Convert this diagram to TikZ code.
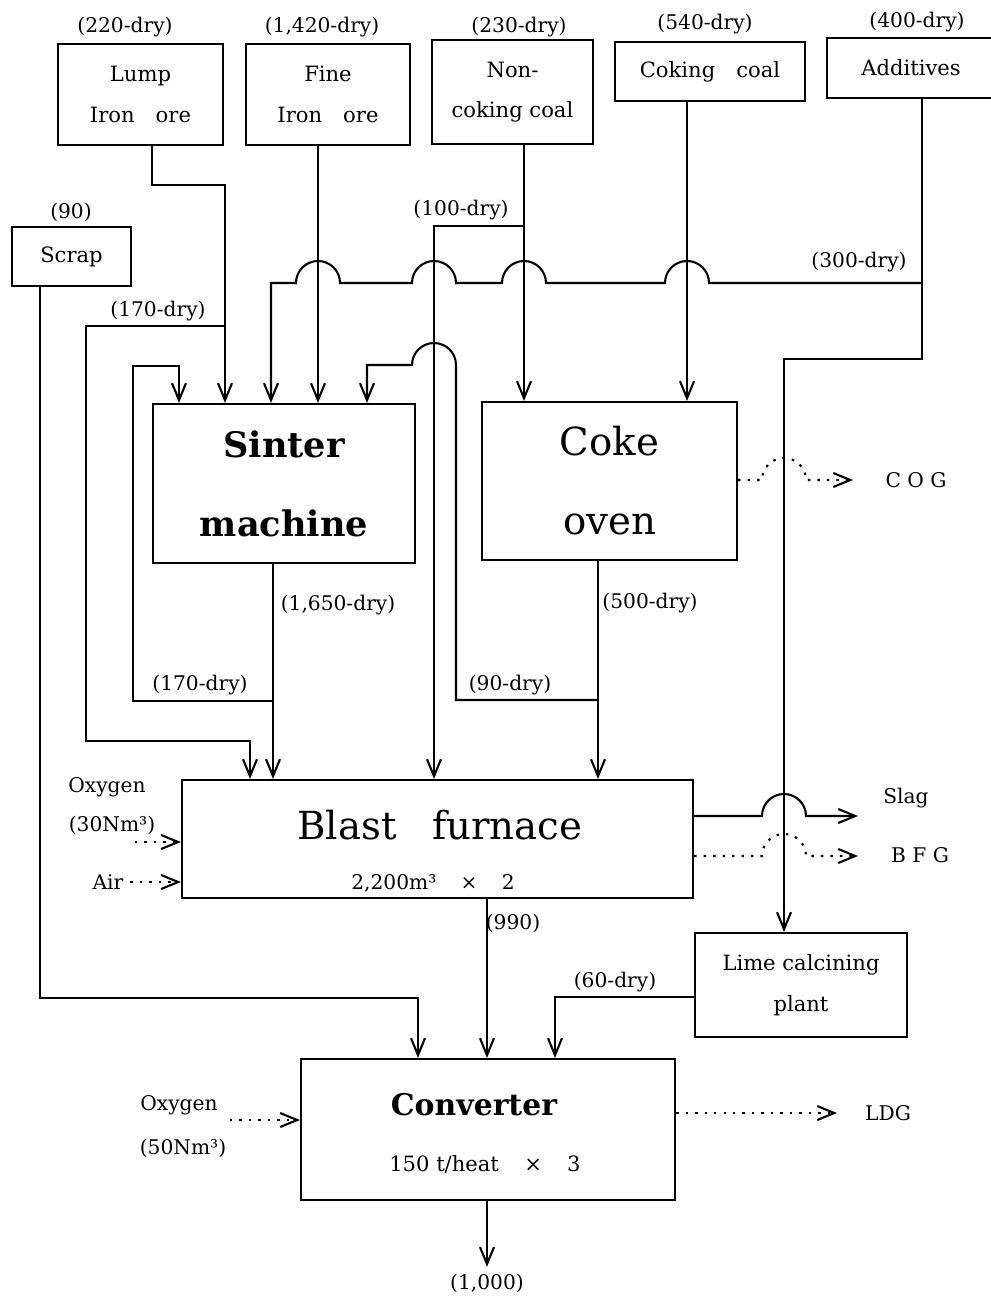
\documentclass[tikz,border=0pt]{standalone}
\usepackage{fontspec}
\setmainfont{DejaVu Serif}
\usetikzlibrary{arrows.meta}

\begin{document}
\begin{tikzpicture}[
  x=0.2mm, y=-0.2mm,
  line width=1.2pt,
  font=\fontsize{11.5}{14}\selectfont,
  every node/.style={align=center},
  box/.style={draw, font=\fontsize{12}{23}\selectfont},
  plantbox/.style={draw, font=\fontsize{22}{45}\selectfont},
  flow/.style={-{Straight Barb[length=3.4mm,width=2.8mm]}},
  gas/.style={flow, dash pattern=on 1.4pt off 4pt},
]
\useasboundingbox (0,0) rectangle (990,1298);

\node[box, minimum width=33mm, minimum height=20.2mm] (lump) at (140.5,94.5) {Lump\\Iron\hspace{1em}ore};
\node[box, minimum width=32.8mm, minimum height=20.2mm] (fine) at (328,94.5) {Fine\\Iron\hspace{1em}ore};
\node[box, minimum width=32.2mm, minimum height=20.8mm] (noncoke) at (512.5,92) {Non-\\coking coal};
\node[box, minimum width=38mm, minimum height=11.8mm] (coking) at (710,71.5) {Coking\hspace{1em}coal};
\node[box, minimum width=33.6mm, minimum height=12mm] (additives) at (911,68) {Additives};
\node[box, minimum width=23.8mm, minimum height=11.8mm] (scrap) at (71.5,256.5) {Scrap};

\node[plantbox, font=\fontsize{20}{45}\selectfont\bfseries, minimum width=52.4mm, minimum height=31.8mm] (sinter) at (284,483.5) {Sinter\\machine};
\node[plantbox, minimum width=51mm, minimum height=31.6mm] (coke) at (609.5,481) {Coke\\oven};
\node[draw, minimum width=102.2mm, minimum height=23.6mm] (bf) at (437.5,839) {};
\node[font=\fontsize{22}{26}\selectfont] (bfname) at (440,825) {Blast\hspace{0.6em} furnace};
\node (bfsize) at (433,883) {2,200m³\hspace{1.2em}×\hspace{1.2em}2};
\node[box, minimum width=42.4mm, minimum height=20.8mm] (lime) at (801,985) {Lime calcining\\plant};
\node[draw, minimum width=74.8mm, minimum height=28.2mm] (conv) at (488,1129.5) {};
\node[font=\fontsize{17}{20}\selectfont\bfseries] (convname) at (474,1105) {Converter};
\node[font=\fontsize{12}{14}\selectfont] (convsize) at (485,1164) {150 t/heat\hspace{1.2em}×\hspace{1.2em}3};

\node (q220) at (125,27) {(220-dry)};
\node (q1420) at (322,27) {(1,420-dry)};
\node (q230) at (519,27) {(230-dry)};
\node (q540) at (705,24) {(540-dry)};
\node (q400) at (917,22) {(400-dry)};
\node (q90) at (71,212) {(90)};
\node (q100) at (461,210) {(100-dry)};
\node (q300) at (859,262) {(300-dry)};
\node (q170a) at (158,311) {(170-dry)};
\node (q1650) at (338,605) {(1,650-dry)};
\node (q500) at (650,603) {(500-dry)};
\node (q170b) at (200,685) {(170-dry)};
\node (q90b) at (510,685) {(90-dry)};
\node (q990) at (513,923) {(990)};
\node (q60) at (615,982) {(60-dry)};
\node (steel) at (487,1283) {(1,000)};
\node (cog) at (916,480) {C O G};
\node (slag) at (906,798) {Slag};
\node (bfg) at (920,855) {B F G};
\node (ldg) at (888,1113) {LDG};
\node (oxbf) at (107,787) {Oxygen};
\node (nm30) at (112,825) {(30Nm³)};
\node (air) at (108,882) {Air};
\node (oxconv) at (179,1105) {Oxygen};
\node (nm50) at (183,1148) {(50Nm³)};

\coordinate (j170) at (225,326);
\coordinate (j100) at (524,226);
\coordinate (j300) at (922,283);
\coordinate (jsr) at (273,701);
\coordinate (j90) at (598,700);
\coordinate (o2bf) at (135,842);
\coordinate (o2conv) at (230,1120);
\coordinate (cogend) at (853,480);
\coordinate (slagend) at (858,816);
\coordinate (bfgend) at (858,856);
\coordinate (ldgend) at (837,1113);

\draw[flow] (lump.south -| 152,0) |- (225,185) -- (sinter.north -| 225,0);
\draw[flow] (j170) -| (86,741) -| (bf.north -| 250,0);
\draw[flow] (fine.south -| 318,0) -- (sinter.north -| 318,0);
\draw[flow] (noncoke.south -| 524,0) -- (coke.north -| 524,0);
\draw[flow] (j100) -| (bf.north -| 434,0);
\draw[flow] (coking.south -| 687,0) -- (coke.north -| 687,0);
\draw[flow] (additives.south -| 922,0) |- (784,359) -- (lime.north -| 784,0);
\draw[flow] (j300) -- (687+22,283) arc[start angle=0,end angle=180,radius=4.4mm]
  -- (524+22,283) arc[start angle=0,end angle=180,radius=4.4mm]
  -- (434+22,283) arc[start angle=0,end angle=180,radius=4.4mm]
  -- (318+22,283) arc[start angle=0,end angle=180,radius=4.4mm]
  -| (sinter.north -| 271,0);
\draw[flow] (sinter.south -| 273,0) -- (bf.north -| 273,0);
\draw[flow] (jsr) -| (133,366) -| (sinter.north -| 179,0);
\draw[flow] (coke.south -| 598,0) -- (bf.north -| 598,0);
\draw[flow] (j90) -| (434+22,365) arc[start angle=0,end angle=180,radius=4.4mm] -| (sinter.north -| 367,0);
\draw[flow] (scrap.south -| 40,0) |- (418,998) -- (conv.north -| 418,0);
\draw[flow] (bf.south -| 487,0) -- (conv.north -| 487,0);
\draw[flow] (lime.west |- 0,997) -| (conv.north -| 555,0);
\draw[flow] (conv.south -| steel.north) -- (steel.north);

\draw[flow] (bf.east |- slagend) -- (784-22,816) arc[start angle=180,end angle=0,radius=4.4mm] -- (slagend);
\draw[gas] (bf.east |- bfgend) -- (784-22,856) arc[start angle=180,end angle=0,radius=4.4mm] -- (bfgend);
\draw[gas] (coke.east |- cogend) -- (784-22,480) arc[start angle=180,end angle=0,radius=4.4mm] -- (cogend);
\draw[gas] (o2bf) -- (bf.west |- o2bf);
\draw[gas] (air.east) -- (bf.west |- air.east);
\draw[gas] (o2conv) -- (conv.west |- o2conv);
\draw[gas] (conv.east |- ldgend) -- (ldgend);
\end{tikzpicture}
\end{document}
